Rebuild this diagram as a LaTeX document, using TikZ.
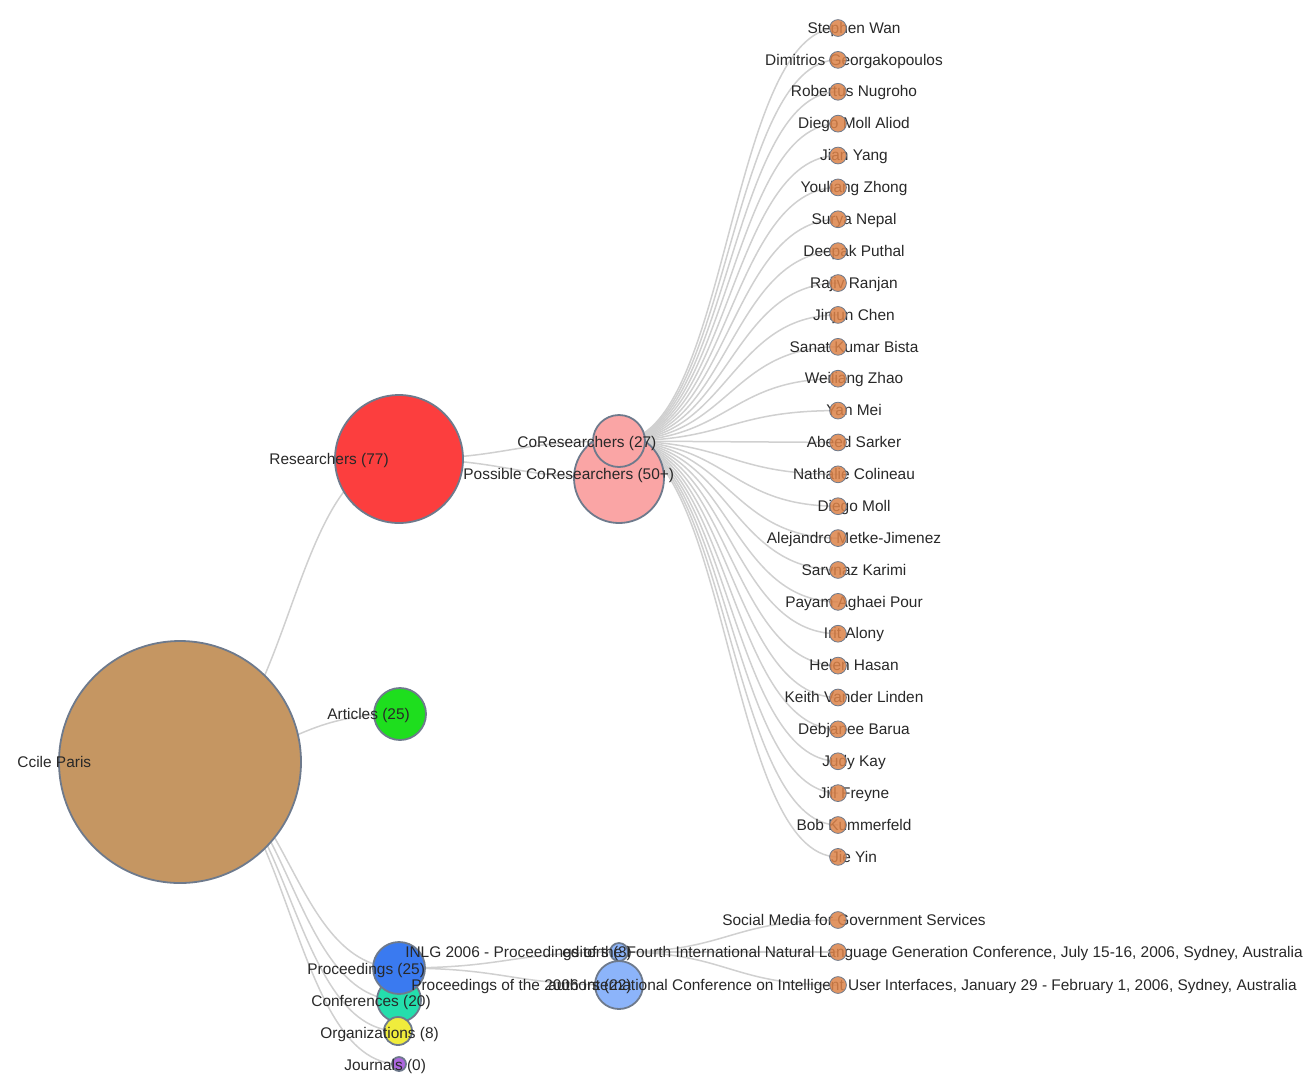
\documentclass[tikz,border=0pt]{standalone}
\usepackage{fontspec}
\setmainfont{Liberation Sans}
\usetikzlibrary{backgrounds,calc}
\definecolor{linkcol}{RGB}{208,208,208}
\definecolor{strokecol}{RGB}{110,122,140}
\definecolor{rootcol}{RGB}{197,150,98}
\definecolor{rescol}{RGB}{252,62,62}
\definecolor{artcol}{RGB}{30,222,30}
\definecolor{proccol}{RGB}{58,122,240}
\definecolor{confcol}{RGB}{36,222,172}
\definecolor{orgcol}{RGB}{240,236,60}
\definecolor{jourcol}{RGB}{172,102,222}
\definecolor{pinkcol}{RGB}{250,165,165}
\definecolor{lbluecol}{RGB}{140,180,250}
\definecolor{leafcol}{RGB}{220,130,72}
\definecolor{txtcol}{RGB}{40,40,40}
\tikzset{
  bubble/.style={circle, draw=strokecol, line width=0.9pt, inner sep=0pt, minimum size=#1pt},
  leafdot/.style={circle, draw=strokecol, line width=0.4pt, fill=leafcol, fill opacity=0.85, inner sep=0pt, minimum size=8.4pt},
  lbl/.style={font=\fontsize{7.72}{9}\selectfont, text=txtcol, inner sep=0pt, text height=0.72em, text depth=0.2em},
  link/.style={draw=linkcol, line width=0.75pt},
  diag/.style={to path={let \p1=(\tikztostart), \p2=(\tikztotarget) in
     .. controls ({0.5*\x1+0.5*\x2},\y1) and ({0.5*\x1+0.5*\x2},\y2) .. (\tikztotarget)}}
}
\begin{document}
\begin{tikzpicture}[x=0.5pt,y=-0.5pt]
\useasboundingbox (0,0) rectangle (1306,1084);
% main bubbles
\node[bubble=121, fill=rootcol] (root) at (180,762) {};
\node[bubble=64, fill=rescol] (res) at (399,459) {};
\node[bubble=26, fill=artcol] (art) at (400,714) {};
\node[bubble=22, fill=confcol] (conf) at (399,1000) {};
\node[bubble=14, fill=orgcol] (org) at (398,1031) {};
\node[bubble=7, fill=jourcol] (jour) at (399,1064) {};
\node[bubble=26, fill=proccol] (proc) at (399,968) {};
\node[bubble=45, fill=pinkcol] (poss) at (619,478) {};
\node[bubble=26, fill=pinkcol] (co) at (619,441) {};
\node[bubble=24, fill=lbluecol] (auth) at (619,985) {};
\node[bubble=9, fill=lbluecol] (edit) at (619,952) {};
% labels of inner nodes
\node[lbl, anchor=west] (lroot) at (17,762) {Ccile Paris};
\node[lbl, anchor=west] (lres) at (269,459) {Researchers (77)};
\node[lbl, anchor=west] (lart) at (327,714) {Articles (25)};
\node[lbl, anchor=west] (lproc) at (307,969) {Proceedings (25)};
\node[lbl, anchor=west] (lconf) at (311,1001) {Conferences (20)};
\node[lbl, anchor=west] (lorg) at (320,1033) {Organizations (8)};
\node[lbl, anchor=west] (ljour) at (344,1065) {Journals (0)};
\node[lbl, anchor=west] (lco) at (517,442) {CoResearchers (27)};
\node[lbl, anchor=west] (lposs) at (463,474) {Possible CoResearchers (50+)};
\node[lbl, anchor=west] (ledit) at (562,952) {editors (3)};
\node[lbl, anchor=west] (lauth) at (548,985) {authors (22)};
% co-researcher leaves
\foreach \nm [count=\i] in {Stephen Wan, Dimitrios Georgakopoulos, Robertus Nugroho, Diego Moll Aliod, Jian Yang, Youliang Zhong, Surya Nepal, Deepak Puthal, Rajiv Ranjan, Jinjun Chen, Sanat Kumar Bista, Weiliang Zhao, Yan Mei, Abeed Sarker, Nathalie Colineau, Diego Moll, Alejandro Metke-Jimenez, Sarvnaz Karimi, Payam Aghaei Pour, Irit Alony, Helen Hasan, Keith Vander Linden, Debjanee Barua, Judy Kay, Jill Freyne, Bob Kummerfeld, Jie Yin} {
  \pgfmathsetmacro{\yy}{28+31.88*(\i-1)}
  \node[lbl] (lleaf\i) at (854,\yy) {\nm};
  \node[leafdot] (leaf\i) at (838,\yy) {};
}
% editors leaves
\node[lbl] (lpub1) at (854,920) {Social Media for Government Services};
\node[lbl] (lpub2) at (854,952) {INLG 2006 - Proceedings of the Fourth International Natural Language Generation Conference, July 15-16, 2006, Sydney, Australia};
\node[lbl] (lpub3) at (854,985) {Proceedings of the 2006 International Conference on Intelligent User Interfaces, January 29 - February 1, 2006, Sydney, Australia};
\node[leafdot] (pub1) at (838,920) {};
\node[leafdot] (pub2) at (838,952) {};
\node[leafdot] (pub3) at (838,985) {};
% links
\begin{scope}[on background layer]
  \draw[link] (root.center) to[diag] (res.center);
  \draw[link] (root.center) to[diag] (art.center);
  \draw[link] (root.center) to[diag] (proc.center);
  \draw[link] (root.center) to[diag] (conf.center);
  \draw[link] (root.center) to[diag] (org.center);
  \draw[link] (root.center) to[diag] (jour.center);
  \draw[link] (res.center) to[diag] (co.center);
  \draw[link] (res.center) to[diag] (poss.center);
  \draw[link] (proc.center) to[diag] (edit.center);
  \draw[link] (proc.center) to[diag] (auth.center);
  \foreach \i in {1,...,27} { \draw[link] (co.center) to[diag] (leaf\i.center); }
  \draw[link] (edit.center) to[diag] (pub1.center);
  \draw[link] (edit.center) to[diag] (pub2.center);
  \draw[link] (edit.center) to[diag] (pub3.center);
\end{scope}
\end{tikzpicture}
\end{document}
